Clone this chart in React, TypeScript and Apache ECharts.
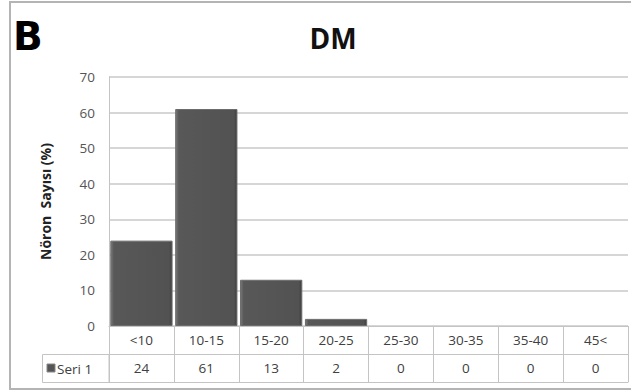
import React, { useEffect, useRef } from "react";
import * as echarts from "echarts";

// Neuron size classes and the share of neurons in each (%)
const categories = ["<10", "10-15", "15-20", "20-25", "25-30", "30-35", "35-40", "45<"];
const seri1 = [24, 61, 13, 2, 0, 0, 0, 0];
const seriesName = "Seri 1";
const yMin = 0;
const yMax = 70;
const yStep = 10;

const FONT = "'Open Sans', 'Liberation Sans', sans-serif";
const GRID_LINE = "#d6d6d6";
const TABLE_LINE = "#c4c4c4";

export default function App() {
  const ref = useRef<HTMLDivElement>(null);

  useEffect(() => {
    if (!ref.current) return;
    const chart = echarts.init(ref.current, undefined, { renderer: "svg" });

    const barFill = new echarts.graphic.LinearGradient(0, 0, 1, 0, [
      { offset: 0, color: "#7a7a7a" },
      { offset: 0.05, color: "#585858" },
      { offset: 0.95, color: "#525252" },
      { offset: 1, color: "#3e3e3e" },
    ]);

    // zero-height bars get no outline so nothing shows for them
    const barData = seri1.map((v) => ({
      value: v,
      itemStyle: { borderWidth: v === 0 ? 0 : 1 },
    }));

    chart.setOption({
      animation: false,
      backgroundColor: "#ffffff",
      title: {
        text: "DM",
        left: 328,
        top: 19,
        textAlign: "center",
        textStyle: { fontFamily: FONT, fontSize: 28, fontWeight: "bold", color: "#111" },
      },
      grid: { left: 109, right: 3, top: 77, bottom: 65, containLabel: false },
      xAxis: [
        {
          type: "category",
          data: categories,
          position: "bottom",
          axisLine: { show: true, lineStyle: { color: TABLE_LINE, width: 1 } },
          axisTick: { show: true, length: 28, lineStyle: { color: TABLE_LINE, width: 1 } },
          axisLabel: { margin: 7, fontFamily: FONT, fontSize: 13.5, color: "#404040" },
        },
        {
          type: "category",
          data: seri1.map((v) => String(v)),
          position: "bottom",
          offset: 28,
          axisLine: { show: true, lineStyle: { color: TABLE_LINE, width: 1 } },
          axisTick: { show: true, length: 28, lineStyle: { color: TABLE_LINE, width: 1 } },
          axisLabel: { margin: 7, fontFamily: FONT, fontSize: 13.5, color: "#404040" },
        },
        {
          type: "category",
          data: categories,
          position: "bottom",
          offset: 56,
          axisLine: { show: true, lineStyle: { color: TABLE_LINE, width: 1 } },
          axisTick: { show: false },
          axisLabel: { show: false },
        },
      ],
      yAxis: {
        type: "value",
        min: yMin,
        max: yMax,
        interval: yStep,
        name: "Nöron  Sayısı (%)",
        nameLocation: "middle",
        nameGap: 57,
        nameTextStyle: { fontFamily: FONT, fontSize: 14, fontWeight: "bold", color: "#222" },
        axisLine: { show: true, lineStyle: { color: TABLE_LINE, width: 1 } },
        axisTick: { show: false },
        axisLabel: { margin: 14, fontFamily: FONT, fontSize: 13.5, color: "#555" },
        splitLine: { lineStyle: { color: GRID_LINE, width: 2 } },
      },
      series: [
        {
          name: seriesName,
          type: "bar",
          xAxisIndex: 0,
          data: barData,
          barCategoryGap: "4%",
          itemStyle: { color: barFill, borderColor: "#6c6c6c", borderWidth: 1 },
        },
      ],
      graphic: [
        {
          type: "rect",
          shape: { x: 10, y: 2, width: 640, height: 387 },
          style: { fill: "none", stroke: "#b4b4b4", lineWidth: 2 },
          silent: true,
        },
        {
          type: "text",
          left: 13,
          top: 17,
          style: { text: "B", fontFamily: "'DejaVu Sans', sans-serif", fontSize: 39, fontWeight: 900, fill: "#000" },
        },
        {
          type: "rect",
          shape: { x: 42.5, y: 354.5, width: 66.5, height: 28 },
          style: { fill: "none", stroke: TABLE_LINE, lineWidth: 1 },
        },
        {
          type: "rect",
          shape: { x: 47, y: 364, width: 8, height: 8 },
          style: { fill: "#555", stroke: "#888", lineWidth: 1 },
        },
        {
          type: "text",
          x: 57,
          y: 368.5,
          style: {
            text: seriesName,
            fontFamily: FONT,
            fontSize: 13.5,
            fill: "#404040",
            verticalAlign: "middle",
          },
        },
      ],
    });

    return () => chart.dispose();
  }, []);

  return (
    <div
      ref={ref}
      style={{ position: "absolute", left: 0, top: 0, width: 631, height: 391 }}
    />
  );
}
